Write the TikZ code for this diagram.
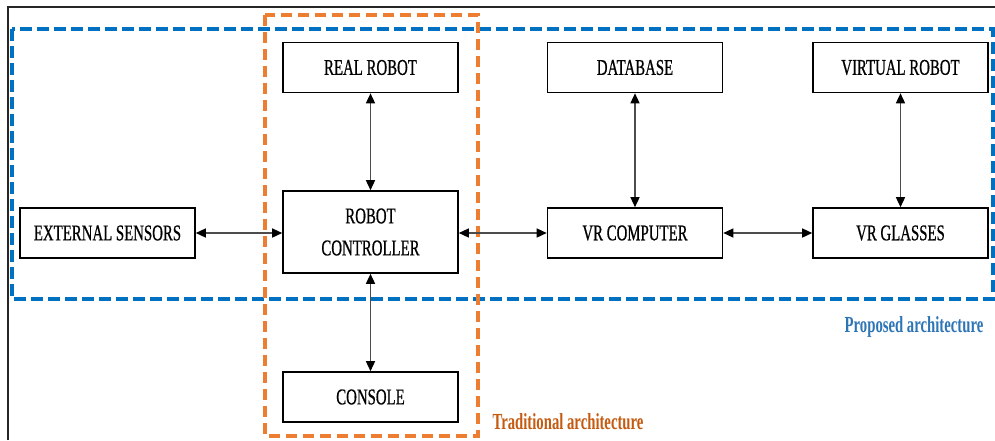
\documentclass[tikz,border=0pt]{standalone}
\usepackage{fontspec}
\usetikzlibrary{arrows.meta}
\newfontfamily\boxfont[FakeStretch=0.66,FakeBold=0.6]{Liberation Serif}
\newfontfamily\labfont[FakeStretch=0.64]{Liberation Serif}
\definecolor{propblue}{HTML}{0070C0}
\definecolor{proptext}{HTML}{2E75B6}
\definecolor{tradorange}{HTML}{ED7D31}
\definecolor{tradtext}{HTML}{C55A11}
\tikzset{
  blk/.style={draw=black, line width=1.6pt, fill=white, inner sep=0pt,
    minimum width=175pt, minimum height=50pt, align=center,
    font=\boxfont\fontsize{22.5}{32}\selectfont},
  link/.style={draw=black!70, line width=1.4pt,
    {Triangle[length=10pt,width=9pt,color=black]}-{Triangle[length=10pt,width=9pt,color=black]}},
  lab/.style={font=\labfont\bfseries\fontsize{23}{27}\selectfont, inner sep=0pt}
}
\begin{document}
\begin{tikzpicture}[x=1pt,y=-1pt]
\useasboundingbox (0,0) rectangle (995,440);
\fill[white] (0,0) rectangle (995,440);
% outer frame
\draw[line width=1.2pt, black!85] (8,440) -- (8,7) -- (995,7);
% architecture frames
\draw[propblue, line width=4.5pt, dash pattern=on 12pt off 5pt] (12,29) rectangle (993,299);
\draw[tradorange, line width=3.5pt, dash pattern=on 11pt off 6pt] (265,15) rectangle (478,436);
% boxes
\node[blk] (ext) at (107.5,233) {EXTERNAL SENSORS};
\node[blk, minimum height=82pt] (ctrl) at (370.5,232) {ROBOT\\CONTROLLER};
\node[blk] (real) at (370.5,67.5) {REAL ROBOT};
\node[blk] (console) at (370.5,397) {CONSOLE};
\node[blk] (db) at (635,67.5) {DATABASE};
\node[blk] (vrc) at (635,233) {VR COMPUTER};
\node[blk] (vrr) at (900.5,67.5) {VIRTUAL ROBOT};
\node[blk] (glass) at (900.5,233) {VR GLASSES};
% connectors
\draw[link] (ext.east) -- (ext.east -| ctrl.west);
\draw[link] (vrc.west -| ctrl.east) -- (vrc.west);
\draw[link] (vrc.east) -- (glass.west);
\draw[link] (real.south) -- (ctrl.north);
\draw[link] (ctrl.south) -- (console.north);
\draw[link] (db.south) -- (vrc.north);
\draw[link] (vrr.south) -- (glass.north);
% labels
\node[lab, text=proptext] (plab) at (914,327) {Proposed architecture};
\node[lab, text=tradtext] (tlab) at (568,422) {Traditional architecture};
\end{tikzpicture}
\end{document}
